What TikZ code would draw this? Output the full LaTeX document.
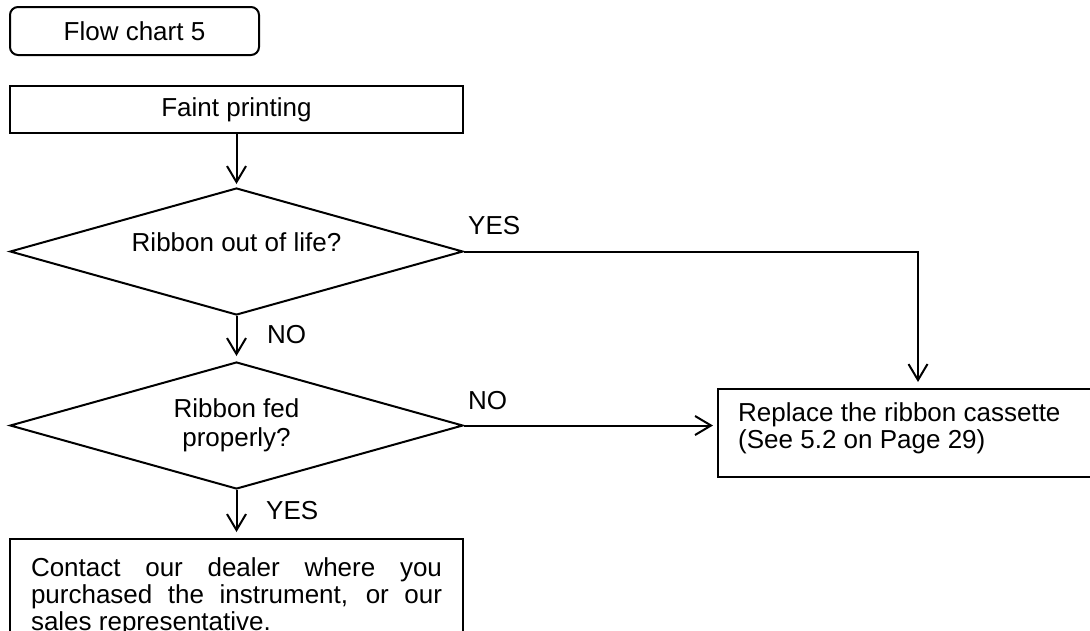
\documentclass[tikz,border=0pt]{standalone}
\usepackage{fontspec}
\setmainfont{Liberation Sans}
\usetikzlibrary{arrows.meta,shapes.geometric}
\begin{document}
\begin{tikzpicture}[x=1pt,y=-1pt,
  every node/.style={font=\fontsize{26}{27}\selectfont},
  box/.style={draw, line width=2pt, inner sep=0pt},
  dia/.style={draw, diamond, line width=2pt, inner sep=0pt, align=center,
              aspect=3.567, minimum width=453pt, minimum height=127pt},
  lbl/.style={inner sep=0pt, anchor=west},
  arr/.style={line width=2pt, -{Straight Barb[length=16pt,width=19pt]}},
]
\useasboundingbox (0,0) rectangle (1090,630);
\clip (0,0) rectangle (1090,630);

\node[box, rounded corners=8pt, minimum width=249pt, minimum height=48pt] (title) at (134.5,31) {Flow chart 5};
\node[box, minimum width=453pt, minimum height=47pt] (faint) at (236.5,109.5) {Faint printing};
\node[dia, text depth=18pt] (q1) at (236.5,251.5) {Ribbon out of life?};
\node[dia] (q2) at (236.5,425.5) {Ribbon fed\\[2pt]properly?};
\node[box, anchor=north west, minimum width=400pt, minimum height=88pt] (rep) at (717,388) {};
\node[inner sep=0pt, anchor=north west, align=left] (reptxt) at (738,402) {Replace the ribbon cassette\\(See 5.2 on Page 29)};
\node[box, anchor=north, text width=411pt, inner xsep=21pt, inner ysep=19pt, align=justify] (contact) at (236.5,538)
  {\tolerance=10000 Contact our dealer where you\linebreak \mbox{purchased} the instrument, or our\linebreak sales \mbox{representative.}};

\node[lbl] (yes1) at (468,226) {YES};
\node[lbl] (no1) at (267,335) {NO};
\node[lbl] (no2) at (468,401) {NO};
\node[lbl] (yes2) at (266,511) {YES};

\draw[arr, shorten >=3pt] (faint) -- (q1);
\draw[arr, shorten >=5pt] (q1) -- (q2);
\draw[arr, shorten >=6pt] (q1.east) -| (rep.north);
\draw[arr, shorten >=4pt] (q2.east) -- (rep.west |- q2.east);
\draw[arr, shorten >=6pt] (q2) -- (contact);
\end{tikzpicture}
\end{document}
